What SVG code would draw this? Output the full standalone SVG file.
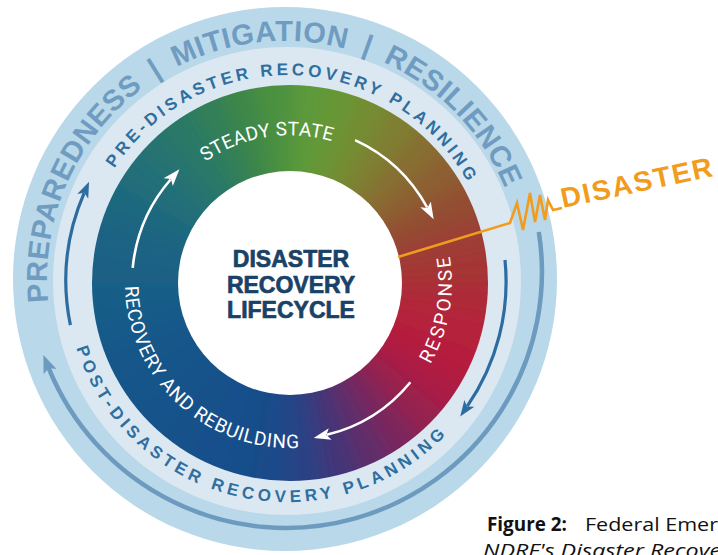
<svg xmlns="http://www.w3.org/2000/svg" width="718" height="555" viewBox="0 0 718 555">
  <style>
    .outer-label { font-family: "Liberation Sans", Arial, sans-serif; font-weight: bold; font-size: 29px; fill: #6f9cc0; letter-spacing: 0.6px; }
    .plan-label { font-family: "Liberation Sans", Arial, sans-serif; font-weight: bold; font-size: 17px; fill: #2f6fa0; }
    .phase-label { font-family: Roboto, "Liberation Sans", sans-serif; font-size: 19px; fill: #ffffff; }
    .center-label { font-family: "Liberation Sans", Arial, sans-serif; font-weight: bold; font-size: 23px; fill: #1a4266; stroke: #1a4266; stroke-width: 0.7px; text-anchor: middle; }
    .white-arc { fill: none; stroke: #ffffff; stroke-width: 2.6; }
    .blue-arc { fill: none; stroke: #2c6ca1; stroke-width: 3.2; }
    .outer-arc { fill: none; stroke: #6d9abf; stroke-width: 4.5; }
    .caption { font-family: "Open Sans", "Noto Sans", sans-serif; font-size: 19px; fill: #111111; }
  </style>
  <defs>
    <!-- 10.5 degree wedge used to build the colour wheel -->
    <path id="wedge" d="M0 0 L0 -300 A300 300 0 0 1 54.7 -295 Z"/>
    <filter id="soften" filterUnits="userSpaceOnUse" x="-320" y="-320" width="640" height="640">
      <feGaussianBlur stdDeviation="9"/>
    </filter>
    <clipPath id="ringClip">
      <circle cx="290" cy="283" r="198"/>
    </clipPath>
    <marker id="whiteHead" markerUnits="userSpaceOnUse" markerWidth="18" markerHeight="13" refX="3.5" refY="6" orient="auto">
      <path d="M0 0 L17 6 L0 12 L4 6 Z" fill="#ffffff"/>
    </marker>
    <marker id="blueHead" markerUnits="userSpaceOnUse" markerWidth="17" markerHeight="13" refX="3.5" refY="6" orient="auto">
      <path d="M0 0 L16 6 L0 12 L4 6 Z" fill="#2c6ca1"/>
    </marker>
    <marker id="outerHead" markerUnits="userSpaceOnUse" markerWidth="20" markerHeight="15" refX="4" refY="7" orient="auto">
      <path d="M0 0 L18 7 L0 14 L4 7 Z" fill="#6d9abf"/>
    </marker>
    <!-- text baselines -->
    <path id="outerPath" d="M78.9 398 A238 238 0 1 1 523 279"/>
    <path id="prePath" d="M84.1 316.8 A206 206 0 1 1 489.9 316.8"/>
    <path id="postPath" d="M69.4 242.6 A221 221 0 1 0 504.6 242.6"/>
    <path id="steadyPath" d="M144.2 308.7 A148 148 0 1 1 435.8 308.7"/>
    <path id="responsePath" d="M371 423.3 A162 162 0 0 0 414.1 178.9"/>
    <path id="rebuildPath" d="M127.5 254.35 A165 165 0 0 0 346.4 438.1"/>
  </defs>

  <rect width="718" height="555" fill="#ffffff"/>

  <!-- outer band: preparedness / mitigation / resilience -->
  <g id="outer-ring">
    <circle cx="285" cy="279" r="272" fill="#b9d8e9"/>
    <text class="outer-label"><textPath href="#outerPath" startOffset="50.5%" text-anchor="middle">PREPAREDNESS&#8194;|&#8194;MITIGATION&#8194;|&#8194;RESILIENCE</textPath></text>
  </g>

  <!-- planning band -->
  <g id="planning-ring">
    <circle cx="287" cy="281" r="234" fill="#dce8f1"/>
    <text class="plan-label" letter-spacing="3.6"><textPath href="#prePath" startOffset="51.3%" text-anchor="middle">PRE-DISASTER RECOVERY PLANNING</textPath></text>
    <text class="plan-label" letter-spacing="4.2"><textPath href="#postPath" startOffset="43.65%" text-anchor="middle">POST-DISASTER RECOVERY PLANNING</textPath></text>
  </g>

  <!-- lifecycle colour wheel -->
  <g id="lifecycle-ring">
    <g clip-path="url(#ringClip)">
      <g transform="translate(290 283)" filter="url(#soften)">
        <use href="#wedge" fill="#5b9a3b"/>
        <use href="#wedge" transform="rotate(10)" fill="#679636"/>
        <use href="#wedge" transform="rotate(20)" fill="#748c33"/>
        <use href="#wedge" transform="rotate(30)" fill="#7f7e31"/>
        <use href="#wedge" transform="rotate(40)" fill="#876e31"/>
        <use href="#wedge" transform="rotate(50)" fill="#8d5e32"/>
        <use href="#wedge" transform="rotate(60)" fill="#934e33"/>
        <use href="#wedge" transform="rotate(70)" fill="#9b4034"/>
        <use href="#wedge" transform="rotate(80)" fill="#a53436"/>
        <use href="#wedge" transform="rotate(90)" fill="#ae2a38"/>
        <use href="#wedge" transform="rotate(100)" fill="#b5213a"/>
        <use href="#wedge" transform="rotate(110)" fill="#b51c3e"/>
        <use href="#wedge" transform="rotate(120)" fill="#ab1c45"/>
        <use href="#wedge" transform="rotate(130)" fill="#95214f"/>
        <use href="#wedge" transform="rotate(140)" fill="#7a285d"/>
        <use href="#wedge" transform="rotate(150)" fill="#5e2d6b"/>
        <use href="#wedge" transform="rotate(160)" fill="#433678"/>
        <use href="#wedge" transform="rotate(170)" fill="#2c4284"/>
        <use href="#wedge" transform="rotate(180)" fill="#1e4a89"/>
        <use href="#wedge" transform="rotate(190)" fill="#184e8b"/>
        <use href="#wedge" transform="rotate(200)" fill="#154f8b"/>
        <use href="#wedge" transform="rotate(210)" fill="#14518a"/>
        <use href="#wedge" transform="rotate(220)" fill="#14538a"/>
        <use href="#wedge" transform="rotate(230)" fill="#14558a"/>
        <use href="#wedge" transform="rotate(240)" fill="#155789"/>
        <use href="#wedge" transform="rotate(250)" fill="#165a89"/>
        <use href="#wedge" transform="rotate(260)" fill="#185d88"/>
        <use href="#wedge" transform="rotate(270)" fill="#1a6086"/>
        <use href="#wedge" transform="rotate(280)" fill="#1c6483"/>
        <use href="#wedge" transform="rotate(290)" fill="#1f687f"/>
        <use href="#wedge" transform="rotate(300)" fill="#226e79"/>
        <use href="#wedge" transform="rotate(310)" fill="#267371"/>
        <use href="#wedge" transform="rotate(320)" fill="#2b7966"/>
        <use href="#wedge" transform="rotate(330)" fill="#327f58"/>
        <use href="#wedge" transform="rotate(340)" fill="#3d874a"/>
        <use href="#wedge" transform="rotate(350)" fill="#4c9140"/>
      </g>
    </g>
    <circle cx="290" cy="283" r="112" fill="#ffffff"/>
    <text class="phase-label" letter-spacing="0.3"><textPath href="#steadyPath" startOffset="45.4%" text-anchor="middle">STEADY STATE</textPath></text>
    <text class="phase-label" letter-spacing="2.5"><textPath href="#responsePath" startOffset="50.1%" text-anchor="middle">RESPONSE</textPath></text>
    <text class="phase-label" letter-spacing="0.8"><textPath href="#rebuildPath" startOffset="47.75%" text-anchor="middle">RECOVERY AND REBUILDING</textPath></text>
  </g>

  <!-- centre title -->
  <g id="center-label">
    <text class="center-label" x="291" y="267">DISASTER</text>
    <text class="center-label" x="291" y="293">RECOVERY</text>
    <text class="center-label" x="291" y="318">LIFECYCLE</text>
  </g>

  <!-- cycle arrows -->
  <g id="connectors">
    <path class="white-arc" d="M355.1 140.1 A157 157 0 0 1 427.2 207.5" marker-end="url(#whiteHead)"/>
    <path class="white-arc" d="M410.4 382.2 A156 156 0 0 1 326.8 434.8" marker-end="url(#whiteHead)"/>
    <path class="white-arc" d="M132.7 267.9 A158 158 0 0 1 170.6 179.5" marker-end="url(#whiteHead)"/>
    <path class="blue-arc" d="M505 260 A219 219 0 0 1 467.3 406.2" marker-end="url(#blueHead)"/>
    <path class="blue-arc" d="M70.4 325.1 A221 221 0 0 1 84.1 193.1" marker-end="url(#blueHead)"/>
    <path class="outer-arc" d="M538.8 232 A256 256 0 0 1 48.6 367.9" marker-end="url(#outerHead)"/>
  </g>

  <!-- disaster strike -->
  <g id="disaster">
    <polyline points="398,257 510,223 517,203 523,230 530,193 535,222 540,195 545,220 548,200 553,210 562,208" fill="none" stroke="#f29c1e" stroke-width="2.6" stroke-linejoin="miter"/>
    <text transform="translate(563 208) rotate(-12)" font-family="Liberation Sans, Arial, sans-serif" font-weight="bold" font-size="28" letter-spacing="1.8" fill="#f29c1e">DISASTER</text>
  </g>

  <!-- caption -->
  <g id="caption">
    <text class="caption" y="531"><tspan x="487" font-weight="bold" textLength="80" lengthAdjust="spacingAndGlyphs">Figure 2:</tspan><tspan x="585" textLength="133" lengthAdjust="spacingAndGlyphs">Federal Emer</tspan></text>
    <text class="caption" x="483" y="557" font-style="italic" textLength="238" lengthAdjust="spacingAndGlyphs">NDRF's Disaster Recove</text>
  </g>
</svg>
